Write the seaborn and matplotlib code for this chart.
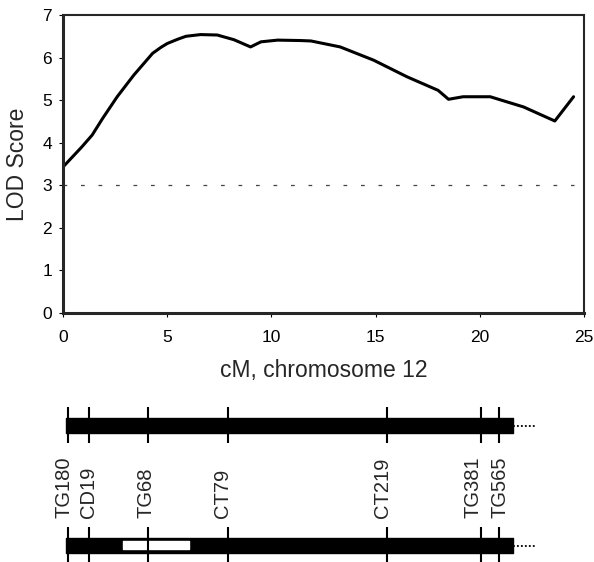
import seaborn as sns
import matplotlib.pyplot as plt
import pandas as pd

# LOD profile
cm = [0.0, 0.9, 1.4, 1.9, 2.6, 3.4, 4.3, 4.7, 5.0, 5.5, 5.9, 6.6, 7.4, 8.2, 9.0, 9.5,
      10.3, 11.4, 11.9, 13.3, 14.9, 16.5, 18.0, 18.5, 19.2, 20.5, 22.1, 23.6, 24.5]
lod = [3.43, 3.9, 4.18, 4.57, 5.08, 5.59, 6.1, 6.24, 6.33, 6.43, 6.5, 6.54, 6.53, 6.42, 6.25, 6.37,
       6.41, 6.4, 6.39, 6.25, 5.94, 5.55, 5.23, 5.02, 5.08, 5.08, 4.84, 4.51, 5.08]
threshold = 3.0

# marker map (cM)
markers = ["TG180", "CD19", "TG68", "CT79", "CT219", "TG381", "TG565"]
marker_pos = [0.23, 1.26, 4.06, 7.9, 15.56, 20.04, 20.92]
label_pos = [0.07, 1.22, 3.98, 7.65, 15.33, 19.65, 20.97]
bar_start, bar_end, bar_dots = 0.15, 21.6, 22.7
white_start, white_end = 2.86, 6.05

df = pd.DataFrame({"cM": cm, "LOD": lod})

sns.set_style("ticks")
plt.rcParams["font.family"] = ["Liberation Sans", "DejaVu Sans"]

fig = plt.figure(figsize=(5.94, 5.62), dpi=100)
W, H = 594, 562
ax = fig.add_axes([63 / W, 1 - 313 / H, 521 / W, 298 / H])

sns.lineplot(data=df, x="cM", y="LOD", ax=ax, color="black", lw=2.2)
ax.hlines(threshold, cm[0], cm[-1], color="#444444", lw=0.9, linestyles=(0, (3, 11)))

ax.set_xlim(0, 25)
ax.set_ylim(0, 7)
ax.set_xticks([0, 5, 10, 15, 20, 25])
ax.set_yticks(range(8))
for s in ["left", "bottom"]:
    ax.spines[s].set_linewidth(2.2)
for s in ["top", "right"]:
    ax.spines[s].set_visible(True)
    ax.spines[s].set_linewidth(1.5)
ax.tick_params(axis="both", direction="out", length=3, width=0.8, labelsize=12.5, colors="black")
ax.tick_params(axis="x", pad=9)
ax.tick_params(axis="y", pad=5)
ax.set_xlabel("cM, chromosome 12", fontsize=16.5, va="center")
ax.set_ylabel("LOD Score", fontsize=16.5)
ax.xaxis.set_label_coords(0.5, (313 - 370) / 298)
ax.yaxis.label.set_va("center")
ax.yaxis.set_label_coords((18 - 63) / 521, 0.5)

# chromosome maps below
mx = fig.add_axes([63 / W, 0, 521 / W, 162 / H])
mx.set_xlim(0, 25)
mx.set_ylim(162, 0)
mx.axis("off")

# upper map
mx.broken_barh([(bar_start, bar_end - bar_start)], (18, 15), color="black")
mx.plot([bar_end, bar_dots], [25.5, 25.5], ls=(0, (1, 1.2)), color="black", lw=1.3)
mx.vlines(marker_pos, 7, 43, color="black", lw=1.5)

# lower map with white interval
mx.broken_barh([(bar_start, bar_end - bar_start)], (138, 15), color="black")
mx.broken_barh([(white_start, white_end - white_start)], (141, 8), color="white")
mx.plot([bar_end, bar_dots], [145.5, 145.5], ls=(0, (1, 1.2)), color="black", lw=1.3)
mx.vlines(marker_pos, 127, 170, color="black", lw=1.5, clip_on=True)

for name, lx in zip(markers, label_pos):
    mx.text(lx, 118, name, rotation=90, ha="center", va="bottom", fontsize=14.5)

fig.savefig("out.png", dpi=100)
